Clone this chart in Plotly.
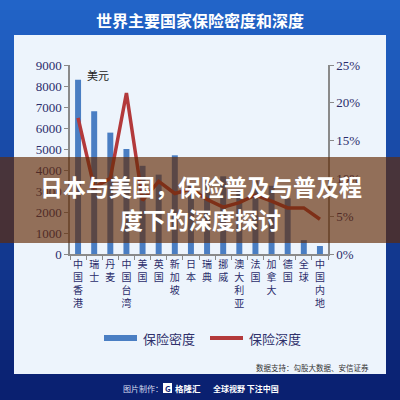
import plotly.graph_objects as go

categories = ["中国香港", "瑞士", "丹麦", "中国台湾", "美国", "英国", "新加坡", "日本",
              "瑞典", "挪威", "澳大利亚", "法国", "加拿大", "德国", "全球", "中国内地"]
density_usd = [8300, 6800, 5780, 5000, 4200, 3780, 4700, 3300,
               3500, 3700, 3000, 3500, 3250, 2650, 660, 380]
depth_pct = [0.180, 0.088, 0.100, 0.213, 0.071, 0.096, 0.080, 0.086,
             0.072, 0.062, 0.068, 0.078, 0.070, 0.061, 0.061, 0.046]

title_text = "世界主要国家保险密度和深度"
banner_line1 = "日本与美国，保险普及与普及程"
banner_line2 = "度下的深度探讨"
source_text = "数据支持：勾股大数据、安信证券"

W, H = 400, 400
L, R, T, B = 70, 328, 65, 254


def xp(x):
    return (x - L) / (R - L)


def yp(y):
    return (B - y) / (B - T)


tick_text = ["<br>".join(list(c)) for c in categories]

fig = go.Figure()
fig.add_trace(go.Bar(x=categories, y=density_usd, name="保险密度",
                     marker=dict(color="#4a7ec3", line=dict(width=0)),
                     width=0.37, yaxis="y"))
fig.add_trace(go.Scatter(x=categories, y=depth_pct, name="保险深度", mode="lines",
                         line=dict(color="#b3393b", width=3.5), yaxis="y2"))

shapes = []
# background gradient bands
N = 40
top_c = (34, 100, 200)
bot_c = (10, 32, 112)
for i in range(N):
    t = i / (N - 1)
    c = tuple(int(top_c[k] + (bot_c[k] - top_c[k]) * t) for k in range(3))
    shapes.append(dict(type="rect", xref="paper", yref="paper", layer="below",
                       x0=xp(0), x1=xp(W), y0=yp(i * H / N), y1=yp((i + 1) * H / N + 0.5),
                       fillcolor="rgb(%d,%d,%d)" % c, line=dict(width=0)))
# light panel
shapes.append(dict(type="rect", xref="paper", yref="paper", layer="below",
                   x0=xp(14), x1=xp(386), y0=yp(35), y1=yp(374),
                   fillcolor="#edf4fc", line=dict(width=0)))
# legend marks
shapes.append(dict(type="rect", xref="paper", yref="paper", layer="above",
                   x0=xp(104), x1=xp(137), y0=yp(335), y1=yp(341),
                   fillcolor="#4a7ec3", line=dict(width=0)))
shapes.append(dict(type="line", xref="paper", yref="paper", layer="above",
                   x0=xp(210), x1=xp(243), y0=yp(338), y1=yp(338),
                   line=dict(color="#b3393b", width=4)))
# logo box
shapes.append(dict(type="rect", xref="paper", yref="paper", layer="above",
                   x0=xp(163), x1=xp(172), y0=yp(383), y1=yp(393),
                   fillcolor="white", line=dict(width=0)))
# banner overlay
shapes.append(dict(type="rect", xref="paper", yref="paper", layer="above",
                   x0=xp(0), x1=xp(W), y0=yp(157), y1=yp(243),
                   fillcolor="rgba(98,42,4,0.66)", line=dict(width=0)))

cjk = "Noto Sans CJK SC"
annotations = [
    dict(text="<b>" + title_text + "</b>", x=xp(200), y=yp(20), xref="paper", yref="paper",
         showarrow=False, font=dict(family=cjk, size=16, color="white"),
         xanchor="center", yanchor="middle"),
    dict(text="美元", x=xp(85), y=yp(75), xref="paper", yref="paper", showarrow=False,
         font=dict(family=cjk, size=11, color="#222222"), xanchor="left", yanchor="middle"),
    dict(text="保险密度", x=xp(141), y=yp(338), xref="paper", yref="paper", showarrow=False,
         font=dict(family=cjk, size=13, color="#2e2f6a"), xanchor="left", yanchor="middle"),
    dict(text="保险深度", x=xp(247), y=yp(338), xref="paper", yref="paper", showarrow=False,
         font=dict(family=cjk, size=13, color="#2e2f6a"), xanchor="left", yanchor="middle"),
    dict(text=source_text, x=xp(371), y=yp(367), xref="paper", yref="paper", showarrow=False,
         font=dict(family=cjk, size=7.5, color="#333333"), xanchor="right", yanchor="middle"),
    dict(text="图片制作：", x=xp(121), y=yp(388), xref="paper", yref="paper", showarrow=False,
         font=dict(family=cjk, size=8, color="#d8def0"), xanchor="left", yanchor="middle"),
    dict(text="<b>G</b>", x=xp(167.5), y=yp(388), xref="paper", yref="paper", showarrow=False,
         font=dict(family=cjk, size=8, color="#0c2275"), xanchor="center", yanchor="middle"),
    dict(text="<b>格隆汇</b>", x=xp(173), y=yp(388), xref="paper", yref="paper", showarrow=False,
         font=dict(family=cjk, size=8.5, color="white"), xanchor="left", yanchor="middle"),
    dict(text="<b>全球视野 下注中国</b>", x=xp(211), y=yp(388), xref="paper", yref="paper",
         showarrow=False, font=dict(family=cjk, size=8, color="white"),
         xanchor="left", yanchor="middle"),
    dict(text="<b>" + banner_line1 + "</b>", x=xp(201), y=yp(186), xref="paper", yref="paper",
         showarrow=False, font=dict(family=cjk, size=23, color="white"),
         xanchor="center", yanchor="middle"),
    dict(text="<b>" + banner_line2 + "</b>", x=xp(200), y=yp(219), xref="paper", yref="paper",
         showarrow=False, font=dict(family=cjk, size=23, color="white"),
         xanchor="center", yanchor="middle"),
]

axis_font = dict(family="Liberation Serif", size=13, color="#2b2d6b")
fig.update_layout(
    width=W, height=H,
    margin=dict(l=L, r=W - R, t=T, b=H - B, pad=0, autoexpand=False),
    paper_bgcolor="#0c2275", plot_bgcolor="rgba(0,0,0,0)",
    showlegend=False, bargap=0.63,
    xaxis=dict(tickmode="array", tickvals=categories, ticktext=tick_text,
               tickfont=dict(family=cjk, size=10, color="#2b2d6b"), automargin=False,
               showline=True, linecolor="#8a8a8a", linewidth=1.5,
               ticks="outside", ticklen=4, tickcolor="#8a8a8a", tickson="boundaries",
               showgrid=False, tickangle=0),
    yaxis=dict(range=[0, 9000], dtick=1000, tickfont=axis_font, showline=True,
               automargin=False,
               linecolor="#8a8a8a", linewidth=1.5, ticks="outside", ticklen=4,
               tickcolor="#8a8a8a", showgrid=False, zeroline=False),
    yaxis2=dict(range=[0, 0.25], dtick=0.05, tickformat=".0%", overlaying="y", side="right",
                automargin=False,
                tickfont=axis_font, showline=True, linecolor="#8a8a8a", linewidth=1.5,
                ticks="outside", ticklen=4, tickcolor="#8a8a8a", showgrid=False,
                zeroline=False),
    shapes=shapes, annotations=annotations,
)

fig.write_html("out.html", config={"displayModeBar": False},
               post_script="document.body.style.margin='0';document.body.style.background='#0c2275';")
